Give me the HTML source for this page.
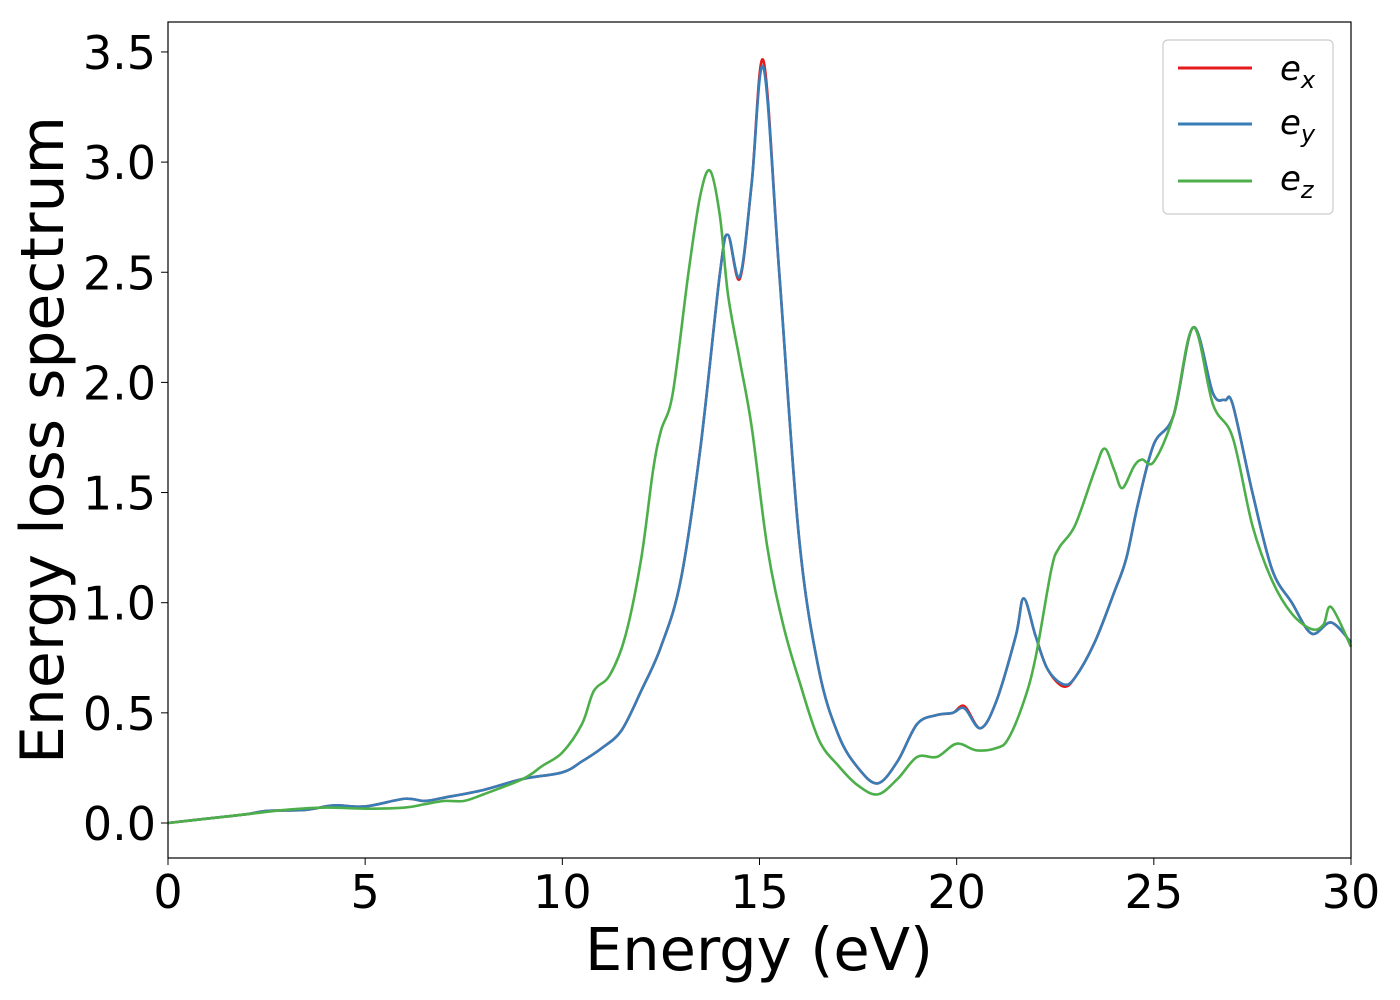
<!DOCTYPE html>
<html><head><meta charset="utf-8"><style>
html,body{margin:0;padding:0;background:#fff;}
svg{display:block;font-family:"DejaVu Sans","Liberation Sans",sans-serif;}
</style></head><body>
<svg id="chart" width="1400" height="1000" viewBox="0 0 1400 1000">
<rect x="0" y="0" width="1400" height="1000" fill="#fff"/>
<g id="series"></g>
<rect x="168" y="22" width="1183" height="836" fill="none" stroke="#000" stroke-width="1.2"/>
<g id="xticks"></g>
<g id="yticks"></g>
<text x="759" y="970" font-size="59" text-anchor="middle">Energy (eV)</text>
<text transform="translate(63,440) rotate(-90)" font-size="60" text-anchor="middle">Energy loss spectrum</text>
<g>
<rect x="1163" y="40" width="170" height="174" rx="5" fill="#fff" fill-opacity="0.8" stroke="#ccc" stroke-width="1.2"/>
<g><line x1="1178" y1="68" x2="1252" y2="68" stroke="#e41a1c" stroke-width="3"/><text x="1280" y="80" font-size="34" font-style="italic">e<tspan font-size="24" dy="8">x</tspan></text></g>
<g><line x1="1178" y1="124" x2="1252" y2="124" stroke="#377eb8" stroke-width="3"/><text x="1280" y="134" font-size="34" font-style="italic">e<tspan font-size="24" dy="8">y</tspan></text></g>
<g><line x1="1178" y1="181" x2="1252" y2="181" stroke="#4daf4a" stroke-width="3"/><text x="1280" y="190" font-size="34" font-style="italic">e<tspan font-size="24" dy="8">z</tspan></text></g>
</g>
</svg>
<script>
const energyEx = [0,1,2,2.5,3.5,4.2,5,6,6.5,7,8,9,10,10.5,11,11.5,12,12.5,13,13.5,14,14.2,14.5,14.8,15.1,15.5,16,16.5,17,17.5,18,18.5,19,19.5,19.9,20.2,20.6,21,21.5,21.7,22,22.3,22.7,23,23.5,24,24.3,24.6,25,25.5,26,26.5,26.8,27,27.5,28,28.5,29,29.5,30];
const valuesEx = [0,0.02,0.04,0.055,0.06,0.08,0.075,0.11,0.10,0.115,0.15,0.2,0.23,0.28,0.34,0.42,0.6,0.8,1.1,1.7,2.5,2.67,2.47,2.9,3.46,2.5,1.3,0.7,0.4,0.25,0.18,0.28,0.45,0.49,0.5,0.53,0.43,0.55,0.85,1.02,0.85,0.7,0.62,0.66,0.82,1.05,1.2,1.45,1.72,1.85,2.25,1.95,1.92,1.9,1.5,1.15,1.0,0.86,0.91,0.82];
const valuesEy = [0,0.02,0.04,0.055,0.06,0.08,0.075,0.11,0.10,0.115,0.15,0.2,0.23,0.28,0.34,0.42,0.6,0.8,1.1,1.7,2.5,2.67,2.48,2.9,3.43,2.5,1.3,0.7,0.4,0.25,0.18,0.28,0.45,0.49,0.5,0.52,0.43,0.55,0.85,1.02,0.85,0.7,0.63,0.66,0.82,1.05,1.2,1.45,1.72,1.85,2.25,1.95,1.92,1.9,1.5,1.15,1.0,0.86,0.91,0.82];
const energyEz = [0,2,3,4,5,6,6.5,7,7.5,8,9,9.5,10,10.5,10.8,11.2,11.6,12,12.3,12.5,12.8,13.2,13.5,13.75,14,14.2,14.5,14.8,15.2,15.6,16,16.5,17,17.5,18,18.5,19,19.5,20,20.5,21,21.3,21.7,22,22.4,22.6,23,23.5,23.75,24,24.2,24.5,24.7,25,25.5,26,26.5,27,27.5,28,28.5,29,29.3,29.5,30];
const valuesEz = [0,0.04,0.06,0.07,0.065,0.07,0.085,0.1,0.1,0.13,0.2,0.26,0.32,0.45,0.6,0.67,0.85,1.2,1.6,1.78,1.95,2.5,2.85,2.96,2.75,2.4,2.1,1.8,1.25,0.9,0.65,0.38,0.26,0.17,0.13,0.2,0.3,0.3,0.36,0.33,0.34,0.38,0.55,0.75,1.15,1.25,1.35,1.6,1.7,1.6,1.52,1.62,1.65,1.64,1.85,2.25,1.9,1.75,1.35,1.1,0.95,0.88,0.9,0.98,0.8];
const xTickLabels = ["0","5","10","15","20","25","30"];
const yTickLabels = ["0.0","0.5","1.0","1.5","2.0","2.5","3.0","3.5"];

const NS="http://www.w3.org/2000/svg";
const xS = v => 168 + v*(1183/30);
const yS = v => 823 - v*220.3;
function pathFor(xs, ys){
  const p = xs.map((x,i)=>[xS(x), yS(ys[i])]);
  let d = `M${p[0][0]},${p[0][1]}`;
  for(let i=0;i<p.length-1;i++){
    const p0=p[i-1]||p[i], p1=p[i], p2=p[i+1], p3=p[i+2]||p[i+1];
    const c1=[p1[0]+(p2[0]-p0[0])/6, p1[1]+(p2[1]-p0[1])/6];
    const c2=[p2[0]-(p3[0]-p1[0])/6, p2[1]-(p3[1]-p1[1])/6];
    d+=` C${c1[0]},${c1[1]} ${c2[0]},${c2[1]} ${p2[0]},${p2[1]}`;
  }
  return d;
}
const g=document.getElementById('series');
[[energyEx,valuesEx,'#e41a1c','line-ex'],[energyEx,valuesEy,'#377eb8','line-ey'],[energyEz,valuesEz,'#4daf4a','line-ez']].forEach(s=>{
  const el=document.createElementNS(NS,'path');
  el.setAttribute('d',pathFor(s[0],s[1]));
  el.setAttribute('fill','none');el.setAttribute('stroke',s[2]);el.setAttribute('stroke-width','2.6');
  
  
  g.appendChild(el);
});
const xg=document.getElementById('xticks');
xTickLabels.forEach(l=>{
  const x=xS(parseFloat(l));
  const t=document.createElementNS(NS,'line');
  t.setAttribute('x1',x);t.setAttribute('x2',x);t.setAttribute('y1',858);t.setAttribute('y2',865);t.setAttribute('stroke','#000');
  
  
  xg.appendChild(t);
  const tx=document.createElementNS(NS,'text');
  tx.setAttribute('x',x);tx.setAttribute('y',908);tx.setAttribute('font-size','46');tx.setAttribute('text-anchor','middle');
  tx.textContent=l;
  
  
  xg.appendChild(tx);
});
const yg=document.getElementById('yticks');
yTickLabels.forEach(l=>{
  const y=yS(parseFloat(l));
  const t=document.createElementNS(NS,'line');
  t.setAttribute('x1',161);t.setAttribute('x2',168);t.setAttribute('y1',y);t.setAttribute('y2',y);t.setAttribute('stroke','#000');
  
  
  yg.appendChild(t);
  const tx=document.createElementNS(NS,'text');
  tx.setAttribute('x',156);tx.setAttribute('y',y+17);tx.setAttribute('font-size','46');tx.setAttribute('text-anchor','end');
  tx.textContent=l;
  
  
  yg.appendChild(tx);
});
</script>
</body></html>
